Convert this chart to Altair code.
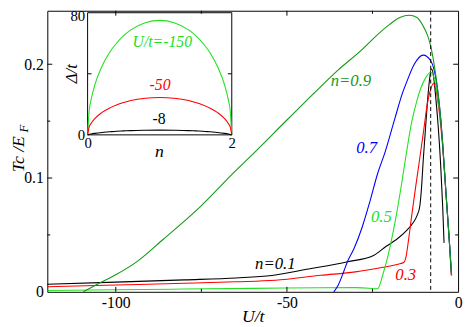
import altair as alt
import pandas as pd

# ---------------- main panel data (U/t , Tc/EF) ----------------
U_01 = [-120, -100, -80, -64.8, -54.4, -43.7, -32.3, -24.7, -21, -18, -15, -13.3, -12, -11.2,
        -10.6, -10.2, -9.6, -9, -8.4, -7.8, -7.2, -6.5, -5.8, -5.1, -4.5, -4.1]
TC_01 = [0.0067, 0.0085, 0.0105, 0.0122, 0.0144, 0.020, 0.0264, 0.032, 0.040, 0.046, 0.054, 0.060,
         0.067, 0.075, 0.095, 0.115, 0.14, 0.165, 0.185, 0.196, 0.19, 0.17, 0.145, 0.112, 0.075, 0.043]

U_03 = [-120, -100, -80, -65, -53.4, -40, -30, -21.9, -17.5, -15.8, -15.2, -14.5, -13.5, -12.5,
        -11.4, -10, -9, -8, -7.2, -6.5, -5.5, -4.5, -3.5, -2.5, -2.0]
TC_03 = [0.0045, 0.006, 0.0075, 0.0088, 0.0101, 0.0145, 0.0175, 0.0216, 0.0242, 0.026, 0.031, 0.045,
         0.068, 0.09, 0.113, 0.143, 0.165, 0.178, 0.183, 0.178, 0.158, 0.127, 0.085, 0.042, 0.0145]

U_05 = [-120, -100, -80, -60, -40, -30, -26, -24.2, -23.4, -22, -20, -18, -16.5, -15.2, -13.5,
        -12.3, -11, -9.5, -8, -7, -6, -5, -4.5, -3.5, -2.5, -1.9]
TC_05 = [0.0012, 0.0018, 0.0024, 0.003, 0.0036, 0.0037, 0.0032, 0.0026, 0.003, 0.015, 0.038, 0.068,
         0.095, 0.12, 0.15, 0.165, 0.178, 0.188, 0.193, 0.188, 0.172, 0.148, 0.130, 0.085, 0.042, 0.0145]

U_07 = [-36.3, -35, -33.5, -32.4, -30.4, -28, -25.7, -23.5, -21.3, -18.5, -16.2, -15.2, -12.8,
        -10.2, -8, -7, -6, -5, -4.5, -3.5, -2.5, -1.9]
TC_07 = [0, 0.006, 0.017, 0.026, 0.038, 0.057, 0.080, 0.104, 0.123, 0.152, 0.175, 0.183, 0.200,
         0.208, 0.203, 0.195, 0.178, 0.150, 0.130, 0.085, 0.042, 0.0145]

U_09 = [-109.5, -105, -100, -93.6, -86.2, -76.3, -64.8, -60.5, -50, -42.6, -35, -28, -24.6, -20,
        -17, -14.3, -12, -10.3, -9, -8, -6.6, -5.5, -4.5, -3.5, -2.5, -1.9]
TC_09 = [0, 0.0073, 0.015, 0.027, 0.046, 0.072, 0.107, 0.1195, 0.151, 0.173, 0.195, 0.213, 0.223,
         0.235, 0.241, 0.243, 0.241, 0.234, 0.226, 0.216, 0.192, 0.165, 0.130, 0.085, 0.042, 0.0145]

SERIES = ["0.1", "0.3", "0.5", "0.7", "0.9"]
COLORS = ["#000000", "#ff0000", "#22e022", "#0000ff", "#149a14"]
U_STAR = [-8]

# curve annotations
LAB_TEXT = ["n=0.1", "0.3", "0.5", "0.7", "n=0.9"]
LAB_U = [-53.4, -15.3, -22.4, -26.7, -31.3]
LAB_TC = [0.0247, 0.0143, 0.066, 0.126, 0.185]

# axis ticks
X_MAJOR = [-100, -50]
X_MINOR = [-75, -25]
Y_MAJOR = [0.1, 0.2]
Y_MINOR = [0.05, 0.15]

# ---------------- inset data (n , Delta/t) ----------------
N_IN = [0, 0.02, 0.05, 0.1, 0.2, 0.3, 0.4, 0.5, 0.6, 0.8, 1.0, 1.2, 1.4, 1.5, 1.6, 1.7, 1.8, 1.9,
        1.95, 1.98, 2.0]
D_150 = [0, 15, 23.4, 32.7, 45, 53.6, 60, 65, 68.8, 73.5, 75, 73.5, 68.8, 65, 60, 53.6, 45, 32.7,
         23.4, 15, 0]
D_50 = [0, 4.9, 7.6, 10.7, 14.7, 17.5, 19.6, 21.2, 22.5, 24, 24.5, 24, 22.5, 21.2, 19.6, 17.5,
        14.7, 10.7, 7.6, 4.9, 0]
D_8 = [0, 0.3, 0.6, 1.0, 1.6, 2.0, 2.4, 2.6, 2.8, 3.0, 3.1, 3.0, 2.8, 2.6, 2.4, 2.0, 1.6, 1.0, 0.6,
       0.3, 0]
IN_SERIES = ["-150", "-50", "-8"]
IN_COLORS = ["#22e022", "#ff0000", "#000000"]
IN_LAB_TEXT = ["U/t=-150", "-50"]
IN_LAB_N = [1.036, 1.005]
IN_LAB_D = [60.7, 32.8]
IN_LAB_COL = ["#22e022", "#ff0000"]
IN_Y_TICK = [40]

# ---------------- tables ----------------
rows = []
for s, us, ts in zip(SERIES, [U_01, U_03, U_05, U_07, U_09], [TC_01, TC_03, TC_05, TC_07, TC_09]):
    for u, t in zip(us, ts):
        rows.append({"U": u, "Tc": t, "n": s})
main_df = pd.DataFrame(rows)

lab_df = pd.DataFrame({"text": LAB_TEXT, "U": LAB_U, "Tc": LAB_TC,
                       "col": [COLORS[SERIES.index(s)] for s in SERIES]})

irows = []
for s, ds in zip(IN_SERIES, [D_150, D_50, D_8]):
    for n, d in zip(N_IN, ds):
        irows.append({"nn": n, "D": d, "U": s})
in_df = pd.DataFrame(irows)
in_lab_df = pd.DataFrame({"text": IN_LAB_TEXT, "nn": IN_LAB_N, "D": IN_LAB_D, "col": IN_LAB_COL})
in_lab8_df = pd.DataFrame({"text": ["-8"], "nn": [0.991], "D": [10.3]})
frame_df = pd.DataFrame({"n0": [0], "n1": [2], "d0": [0], "d1": [80]})
dummy = pd.DataFrame({"a": [0]})
star_df = pd.DataFrame({"U": U_STAR})

# ---------------- layout ----------------
W, H = 418, 286
FONT = "Liberation Serif"
IX0, IX1 = 41, 187.7      # inset x range (plot px)
IY0, IY1 = 126.3, 2       # inset y range (plot px)

def xs():
    return alt.Scale(domain=[-120, 0], nice=False, zero=False)

def ys():
    return alt.Scale(domain=[0, 0.247], nice=False, zero=False)

def ixs():
    return alt.Scale(domain=[0, 2], range=[IX0, IX1], nice=False, zero=False)

def iys():
    return alt.Scale(domain=[0, 80], range=[IY0, IY1], nice=False, zero=False)

# main curves (carry the labelled axes)
lines = alt.Chart(main_df).mark_line(strokeWidth=1.1, interpolate="monotone").encode(
    x=alt.X("U:Q", scale=xs(), axis=alt.Axis(
        orient="bottom", values=[-100, -50, 0], ticks=False, tickSize=0, domain=False, grid=False,
        labelExpr="datum.value < 0 ? '-' + (-datum.value) : '' + datum.value",
        labelFont=FONT, labelFontSize=16, labelColor="black", labelPadding=3, labelFlush=False,
        title="U/t", titleFont=FONT, titleFontSize=18, titleFontStyle="italic",
        titleFontWeight="normal", titleColor="black", titleBaseline="alphabetic", titleY=30)),
    y=alt.Y("Tc:Q", scale=ys(), axis=alt.Axis(
        orient="left", values=[0, 0.1, 0.2], ticks=False, tickSize=0, domain=False, grid=False,
        labelExpr="datum.value == 0 ? '0' : format(datum.value, '.1f')",
        labelFont=FONT, labelFontSize=16, labelColor="black", labelPadding=4, labelFlush=False,
        title=None)),
    color=alt.Color("n:N", scale=alt.Scale(domain=SERIES, range=COLORS), legend=None),
)

star = alt.Chart(star_df).mark_rule(color="black", strokeWidth=1, strokeDash=[4, 3]).encode(
    x=alt.X("U:Q", scale=xs(), axis=None),
)

labels = alt.Chart(lab_df).mark_text(font=FONT, fontSize=17, fontStyle="italic",
                                      align="center", baseline="middle").encode(
    x=alt.X("U:Q", scale=xs(), axis=None),
    y=alt.Y("Tc:Q", scale=ys(), axis=None),
    text="text:N",
    color=alt.Color("col:N", scale=None),
)

# inward ticks on all four sides
def xticks(vals, size):
    df = pd.DataFrame({"U": vals})
    base = alt.Chart(df).mark_rule(color="black", strokeWidth=1)
    bot = base.encode(x=alt.X("U:Q", scale=xs(), axis=None), y=alt.value(H), y2=alt.value(H - size))
    top = base.encode(x=alt.X("U:Q", scale=xs(), axis=None), y=alt.value(0), y2=alt.value(size))
    return [bot, top]

def yticks(vals, size):
    df = pd.DataFrame({"Tc": vals})
    base = alt.Chart(df).mark_rule(color="black", strokeWidth=1)
    lft = base.encode(y=alt.Y("Tc:Q", scale=ys(), axis=None), x=alt.value(0), x2=alt.value(size))
    rgt = base.encode(y=alt.Y("Tc:Q", scale=ys(), axis=None), x=alt.value(W), x2=alt.value(W - size))
    return [lft, rgt]

tick_layers = xticks(X_MAJOR, 5) + xticks(X_MINOR, 3) + yticks(Y_MAJOR, 5) + yticks(Y_MINOR, 3)

# ---------------- inset ----------------
frame = alt.Chart(frame_df).mark_rect(fillOpacity=0, stroke="black", strokeWidth=1).encode(
    x=alt.X("n0:Q", scale=ixs(), axis=alt.Axis(
        orient="bottom", offset=-(H - IY0), values=[0, 2], ticks=False, tickSize=0, domain=False,
        grid=False, labelFont=FONT, labelFontSize=15, labelColor="black", labelPadding=1,
        labelFlush=False, title=None)),
    x2="n1:Q",
    y=alt.Y("d0:Q", scale=iys(), axis=alt.Axis(
        orient="left", offset=-IX0, values=[0, 80], ticks=False, tickSize=0, domain=False,
        grid=False, labelFont=FONT, labelFontSize=15, labelColor="black", labelPadding=3,
        labelOffset={"condition": {"test": "datum.value == 80", "value": 3}, "value": 0},
        labelFlush=False, title=None)),
    y2="d1:Q",
)

in_tick_df = pd.DataFrame({"D": IN_Y_TICK})
in_tick_l = alt.Chart(in_tick_df).mark_rule(color="black", strokeWidth=1).encode(
    y=alt.Y("D:Q", scale=iys(), axis=None), x=alt.value(IX0), x2=alt.value(IX0 + 4))
in_tick_r = alt.Chart(in_tick_df).mark_rule(color="black", strokeWidth=1).encode(
    y=alt.Y("D:Q", scale=iys(), axis=None), x=alt.value(IX1), x2=alt.value(IX1 - 4))

in_lines = alt.Chart(in_df).mark_line(strokeWidth=1.1, interpolate="monotone").encode(
    x=alt.X("nn:Q", scale=ixs(), axis=None),
    y=alt.Y("D:Q", scale=iys(), axis=None),
    color=alt.Color("U:N", scale=alt.Scale(domain=IN_SERIES, range=IN_COLORS), legend=None),
    detail="U:N",
)

in_labels = alt.Chart(in_lab_df).mark_text(font=FONT, fontSize=16, fontStyle="italic",
                                            align="center", baseline="middle").encode(
    x=alt.X("nn:Q", scale=ixs(), axis=None),
    y=alt.Y("D:Q", scale=iys(), axis=None),
    text="text:N",
    color=alt.Color("col:N", scale=None),
)

in_label8 = alt.Chart(in_lab8_df).mark_text(font=FONT, fontSize=16, color="black",
                                             align="center", baseline="middle").encode(
    x=alt.X("nn:Q", scale=ixs(), axis=None),
    y=alt.Y("D:Q", scale=iys(), axis=None),
    text="text:N",
)

# ---------------- titles ----------------
def title_text(txt, px, py, size, angle=0, style="italic"):
    return alt.Chart(dummy).mark_text(text=txt, font=FONT, fontSize=size, fontStyle=style,
                                      color="black", angle=angle, align="center",
                                      baseline="middle").encode(x=alt.value(px), y=alt.value(py))

ytitle = title_text("Tc /E", -29, 146, 18, angle=270)
ytitle_sub = title_text("F", -24, 120, 13, angle=270)
in_ytitle = title_text("\u0394/t", 25, 64, 17, angle=270)
in_xtitle = title_text("n", 114, 144, 18)

chart = alt.layer(
    lines, star, labels, *tick_layers, frame, in_tick_l, in_tick_r, in_lines, in_labels, in_label8,
    ytitle, ytitle_sub, in_ytitle, in_xtitle,
).resolve_scale(
    x="independent", y="independent", color="independent"
).resolve_axis(
    x="independent", y="independent"
).properties(
    width=W, height=H,
    autosize=alt.AutoSizeParams(type="none"),
    padding={"left": 40, "top": 0, "right": 5, "bottom": 33},
    background="white",
).configure_view(stroke="black", strokeWidth=1)

chart.save("out.html", embed_options={"renderer": "svg", "actions": False})
